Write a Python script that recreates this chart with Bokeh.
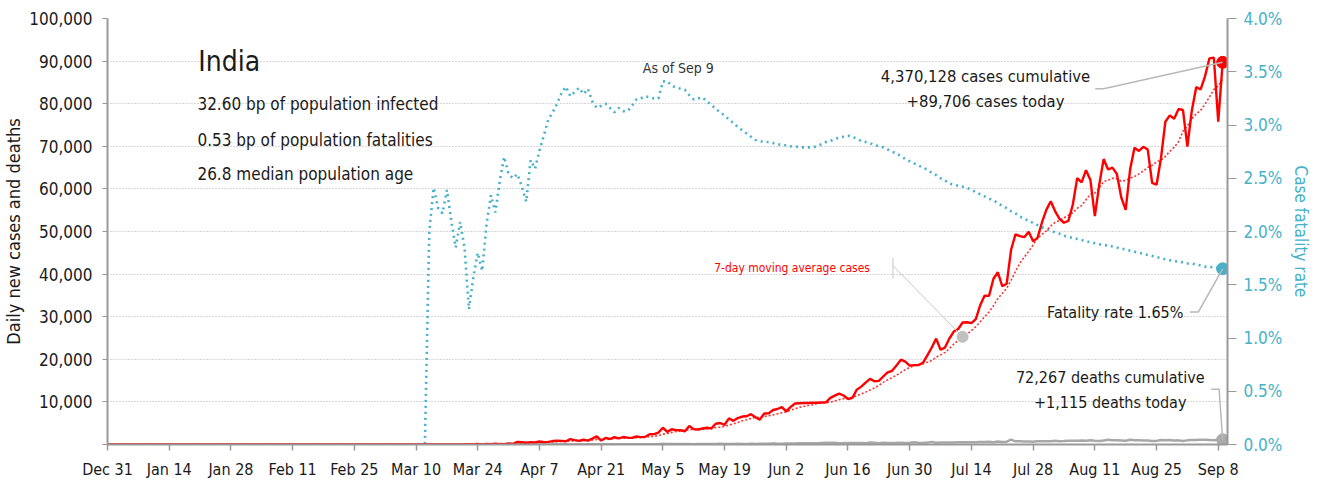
import pandas as pd
from bokeh.plotting import figure
from bokeh.models import Range1d, LinearAxis, FixedTicker, PrintfTickFormatter, Label
from bokeh.embed import file_html
from bokeh.resources import INLINE

FONT = "DejaVu Sans Condensed"

# ---------------- data (day 0 = Dec 31, 2019; last day = Sep 9, 2020) ----------------
start_date = "2019-12-31"

cases = (
    [0] * 14 + [0] * 14 +
    [0, 0, 0, 1, 0, 0, 1, 1, 0, 0, 0, 0, 0, 0] +
    [0] * 14 + [0, 0, 0, 0, 0] +
    # Mar
    [0, 0, 2, 1, 22, 2, 1, 3, 5, 4, 13, 6, 11, 9, 20, 11, 6, 23, 14, 38,
     50, 86, 66, 103, 37, 121, 70, 160, 100, 64, 227] +
    # Apr
    [146, 601, 545, 424, 515, 506, 700, 533, 605, 809, 873, 848, 759, 1248, 1034,
     835, 1108, 922, 1370, 1893, 924, 1541, 1290, 1707, 1453, 1753, 1607, 1561, 1873, 1738] +
    # May
    [1801, 2394, 2442, 2806, 3932, 2963, 3587, 3364, 3344, 3113, 4353, 3607, 3524, 3763,
     3942, 3787, 4864, 5050, 4630, 6147, 5553, 6198, 6568, 6629, 7113, 6414, 5843, 7293,
     7300, 8105, 8336] +
    # Jun
    [8782, 7761, 8821, 9633, 9700, 9750, 9750, 9800, 9800, 9850, 9900, 10930, 11458,
     11929, 11502, 10667, 10974, 12881, 13586, 14516, 15403, 14831, 14933, 15968, 16922,
     17296, 18552, 19906, 19459, 18522] +
    # Jul
    [18641, 18653, 19148, 20903, 22771, 24850, 22252, 22752, 24879, 26506, 27114, 28637,
     28701, 28498, 29429, 32695, 34956, 34884, 38902, 40425, 37148, 37724, 45720, 49310,
     48916, 48661, 49931, 47703, 48513, 52123, 55079] +
    # Aug
    [57118, 54735, 52972, 52050, 52509, 56282, 62538, 61537, 64399, 62064, 53601, 60963,
     66999, 64553, 65002, 63490, 57981, 55079, 64531, 69652, 68900, 69878, 69239, 61408,
     60975, 67151, 75760, 77266, 76472, 78761, 78512] +
    # Sep
    [69921, 78357, 83883, 83341, 86432, 90632, 90802, 75809, 89706]
)

deaths = (
    [0] * 73 +
    # Mar 13-31
    [1, 0, 1, 0, 0, 1, 0, 1, 0, 2, 3, 1, 2, 4, 3, 4, 2, 7, 3] +
    # Apr
    [6, 3, 12, 13, 12, 17, 32, 11, 20, 33, 31, 35, 34, 29, 31, 35, 25, 36, 41, 41,
     31, 51, 42, 35, 51, 39, 57, 45, 70, 73] +
    # May
    [71, 77, 72, 69, 194, 126, 90, 103, 95, 128, 110, 87, 122, 134, 100, 103, 110, 157,
     134, 132, 140, 148, 137, 142, 149, 146, 194, 170, 175, 265, 204] +
    # Jun
    [193, 230, 217, 260, 294, 273, 287, 266, 266, 331, 395, 394, 389, 311, 325, 380, 341,
     336, 375, 306, 445, 410, 312, 418, 366, 379, 384, 410, 380, 419] +
    # Jul
    [507, 434, 379, 442, 613, 425, 467, 482, 475, 487, 519, 551, 500, 553, 543, 582, 606,
     671, 543, 681, 587, 648, 1129, 740, 757, 705, 708, 654, 768, 775, 764] +
    # Aug
    [783, 853, 771, 803, 857, 904, 898, 933, 861, 1007, 871, 834, 942, 1092, 996, 1007,
     941, 876, 1115, 977, 983, 945, 912, 836, 848, 1059, 1023, 1057, 944, 971, 819] +
    # Sep
    [971, 1045, 1043, 1096, 1089, 1065, 1016, 1133, 1115]
)

cfr_pct = (
    [0.0] * 73 +
    # Mar 13-31
    [2.00, 2.41, 2.22, 2.17, 2.39, 2.10, 1.85, 2.09, 1.85, 1.27, 1.57, 1.80, 1.63, 2.07,
     2.34, 2.18, 2.48, 2.70, 2.54] +
    # Apr
    [2.50, 2.54, 2.42, 2.28, 2.67, 2.59, 2.76, 2.90, 3.05, 3.12, 3.20, 3.30, 3.36, 3.27,
     3.31, 3.35, 3.29, 3.34, 3.22, 3.16, 3.18, 3.20, 3.16, 3.12, 3.16, 3.13, 3.13, 3.18,
     3.24, 3.25] +
    # May
    [3.27, 3.26, 3.25, 3.25, 3.41, 3.41, 3.37, 3.35, 3.34, 3.33, 3.28, 3.24, 3.25, 3.26,
     3.22, 3.19, 3.15, 3.12, 3.09, 3.05, 3.02, 2.98, 2.95, 2.92, 2.89, 2.86, 2.85, 2.84,
     2.84, 2.83, 2.82] +
    # Jun
    [2.81, 2.81, 2.80, 2.80, 2.79, 2.79, 2.79, 2.79, 2.80, 2.82, 2.84, 2.85, 2.87, 2.88,
     2.89, 2.90, 2.89, 2.87, 2.85, 2.84, 2.83, 2.81, 2.80, 2.79, 2.77, 2.75, 2.73, 2.71,
     2.68, 2.66] +
    # Jul
    [2.64, 2.62, 2.60, 2.58, 2.55, 2.53, 2.50, 2.48, 2.45, 2.44, 2.43, 2.42, 2.41, 2.39,
     2.37, 2.35, 2.33, 2.31, 2.29, 2.27, 2.24, 2.22, 2.19, 2.17, 2.14, 2.12, 2.10, 2.08,
     2.06, 2.04, 2.02] +
    # Aug
    [2.01, 1.99, 1.98, 1.96, 1.95, 1.94, 1.93, 1.92, 1.91, 1.90, 1.89, 1.88, 1.87, 1.87,
     1.86, 1.85, 1.84, 1.83, 1.82, 1.81, 1.80, 1.79, 1.78, 1.77, 1.76, 1.75, 1.74, 1.73,
     1.72, 1.72, 1.71] +
    # Sep
    [1.70, 1.70, 1.69, 1.68, 1.67, 1.67, 1.66, 1.66, 1.65]
)

x_tick_labels = ["Dec 31", "Jan 14", "Jan 28", "Feb 11", "Feb 25", "Mar 10", "Mar 24",
                 "Apr 7", "Apr 21", "May 5", "May 19", "Jun 2", "Jun 16", "Jun 30",
                 "Jul 14", "Jul 28", "Aug 11", "Aug 25", "Sep 8"]
left_ticks = [0, 10000, 20000, 30000, 40000, 50000, 60000, 70000, 80000, 90000, 100000]
right_ticks = [0.0, 0.5, 1.0, 1.5, 2.0, 2.5, 3.0, 3.5, 4.0]

country = "India"
info_lines = ["32.60 bp of population infected",
              "0.53 bp of population fatalities",
              "26.8 median population age"]
cum_cases_text = ["4,370,128 cases cumulative", "+89,706 cases today"]
cum_deaths_text = ["72,267 deaths cumulative", "+1,115 deaths today"]
fatality_text = "Fatality rate 1.65%"
ma_text = "7-day moving average cases"
asof_text = "As of Sep 9"

# ---------------- derived ----------------
dates = pd.date_range(start_date, periods=len(cases), freq="D")
day = [(d - dates[0]).days for d in dates]
ma7 = pd.Series(cases).rolling(7, min_periods=1).mean().tolist()
last = len(cases) - 1

RED = "#ff0000"
BLUE = "#46b1c9"
GRAY = "#a8a8a8"
LEADER = "#b8b8b8"
TXT = "#1a1a1a"

p = figure(width=1314, height=481, x_range=Range1d(0, 254.1), y_range=Range1d(0, 100000),
           output_backend="svg", toolbar_location=None,
           min_border_left=97, min_border_right=81, min_border_top=18, min_border_bottom=37)
p.extra_y_ranges = {"cfr": Range1d(0, 4)}
p.outline_line_color = None
p.background_fill_color = "white"
p.border_fill_color = "white"

p.xgrid.grid_line_color = None
p.ygrid.ticker = FixedTicker(ticks=left_ticks)
p.ygrid.grid_line_color = "#b0b0b0"
p.ygrid.grid_line_dash = "1 2"
p.ygrid.grid_line_width = 1

# x axis
xa = p.xaxis[0]
xa.ticker = FixedTicker(ticks=[14 * i for i in range(len(x_tick_labels))])
xa.major_label_overrides = {14 * i: lab for i, lab in enumerate(x_tick_labels)}
xa.minor_tick_line_color = None
xa.major_tick_in = 0
xa.major_tick_out = 6
xa.axis_line_color = "#999999"
xa.axis_line_width = 2
xa.major_tick_line_color = "#999999"
xa.major_tick_line_width = 1.5
xa.major_label_text_font = FONT
xa.major_label_text_font_size = "16px"
xa.major_label_text_color = TXT
xa.major_label_standoff = 9

# left axis
ya = p.yaxis[0]
ya.ticker = FixedTicker(ticks=left_ticks)
ya.major_label_overrides = {t: ("" if t == 0 else f"{t:,}") for t in left_ticks}
ya.minor_tick_line_color = None
ya.major_tick_in = 0
ya.major_tick_out = 5
ya.axis_line_color = "#999999"
ya.axis_line_width = 2
ya.major_tick_line_color = "#999999"
ya.major_label_text_font = FONT
ya.major_label_text_font_size = "17px"
ya.major_label_text_color = TXT
ya.major_label_standoff = 10
ya.axis_label = "Daily new cases and deaths"
ya.axis_label_text_font = FONT
ya.axis_label_text_font_size = "18px"
ya.axis_label_text_font_style = "normal"
ya.axis_label_text_color = TXT
ya.axis_label_standoff = 2

# right axis
ra = LinearAxis(y_range_name="cfr", ticker=FixedTicker(ticks=right_ticks),
                formatter=PrintfTickFormatter(format="%.1f%%"))
ra.minor_tick_line_color = None
ra.major_tick_in = 0
ra.major_tick_out = 9
ra.axis_line_color = "#999999"
ra.axis_line_width = 2
ra.major_tick_line_color = "#999999"
ra.major_label_text_font = FONT
ra.major_label_text_font_size = "17px"
ra.major_label_text_color = BLUE
ra.major_label_standoff = 7
ra.axis_label = "Case fatality rate"
ra.axis_label_text_font = FONT
ra.axis_label_text_font_size = "17px"
ra.axis_label_text_font_style = "normal"
ra.axis_label_text_color = BLUE
ra.axis_label_standoff = 6
p.add_layout(ra, "right")

# ---------------- series ----------------
p.line(day, cfr_pct, y_range_name="cfr", line_color=BLUE, line_width=2.6, line_dash="2 4")
p.line(day, deaths, line_color=GRAY, line_width=2.5)
p.line(day, ma7, line_color="#ff3030", line_width=1.6, line_dash="2 2")
p.line(day, cases, line_color=RED, line_width=2.4)

# end markers
p.scatter([day[last]], [cases[last]], size=12, color=RED)
p.scatter([day[last]], [cfr_pct[last]], y_range_name="cfr", size=12, color=BLUE)
p.scatter([day[last]], [deaths[last]], size=12, color="#aaaaaa")

# ---------------- annotations ----------------
def lab(x, y, text, size, color=TXT, align="left", y_range_name="default"):
    p.add_layout(Label(x=x, y=y, text=text, text_font=FONT, text_font_size=size,
                       text_color=color, text_align=align, text_baseline="middle",
                       y_range_name=y_range_name))

lab(20.6, 89900, country, "28px")
lab(20.4, 80000, info_lines[0], "17px")
lab(20.4, 71500, info_lines[1], "17px")
lab(20.4, 63450, info_lines[2], "17px")
lab(129.5, 88450, asof_text, "14px", color="#333333", align="center")

lab(199.2, 86300, cum_cases_text[0], "16.5px", align="center")
lab(199.2, 80450, cum_cases_text[1], "16.5px", align="center")
p.line([224.1, 226.0, day[last]], [83490, 83490, cases[last]], line_color=LEADER, line_width=1.5)

lab(244.1, 1.24, fatality_text, "16px", align="right", y_range_name="cfr")
p.line([245.6, 247.5, day[last]], [1.245, 1.245, cfr_pct[last]], y_range_name="cfr",
       line_color=LEADER, line_width=1.5)

lab(227.5, 15800, cum_deaths_text[0], "16px", align="center")
lab(227.5, 9900, cum_deaths_text[1], "16px", align="center")
p.line([250.4, 252.2, day[last]], [12970, 12970, deaths[last]], line_color=LEADER, line_width=1.5)

ma_day = 194
lab(155.3, 41500, ma_text, "12px", color=RED, align="center")
p.line([178.2, 178.2], [43870, 38900], line_color="#c8c8c8", line_width=1)
p.line([178.2, ma_day], [41980, ma7[ma_day]], line_color="#c8c8c8", line_width=1)
p.scatter([ma_day], [ma7[ma_day]], size=11, color="#c0c0c0")

open("out.html", "w").write(file_html(p, INLINE))
